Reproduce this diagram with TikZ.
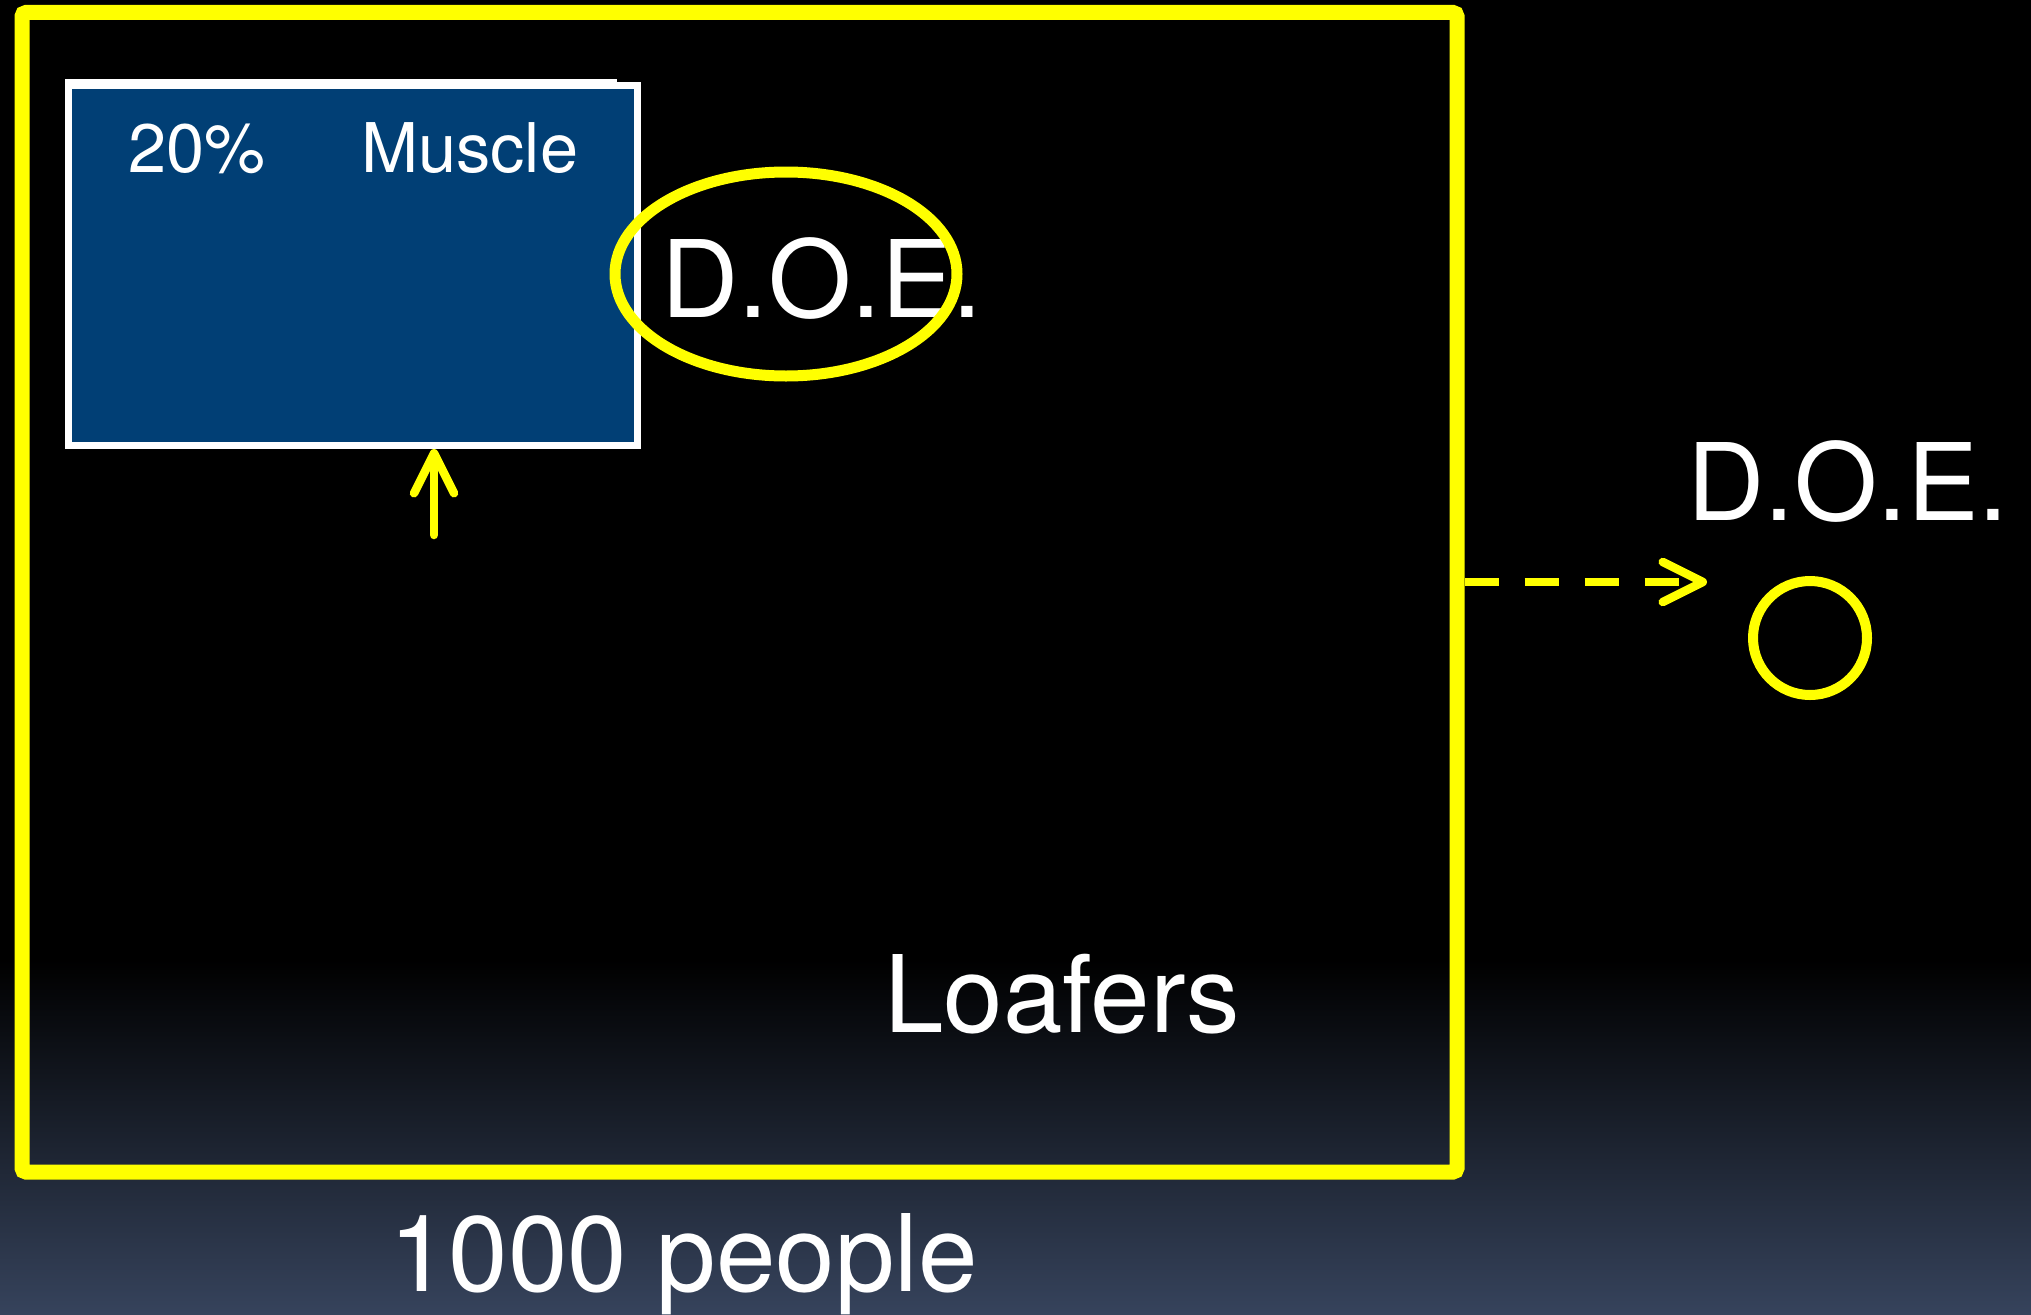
\documentclass[tikz,border=0pt]{standalone}
\usepackage{fontspec}
\setmainfont{TeX Gyre Heros}
\usetikzlibrary{shapes.geometric,arrows.meta}

\definecolor{hiyellow}{RGB}{255,255,0}
\definecolor{boxblue}{RGB}{1,63,117}
\definecolor{floorblue}{RGB}{54,67,92}

\tikzset{
  bigtext/.style={text=white, inner sep=0pt, anchor=base west,
    font=\fontsize{107}{120}\selectfont},
  smalltext/.style={text=white, inner sep=0pt, anchor=base west,
    font=\fontsize{68.5}{80}\selectfont},
  hiline/.style={draw=hiyellow, line cap=round, line join=round},
  barb/.style={-{Straight Barb[length=40pt, width=40pt, line cap=round, line join=round]}},
}

\begin{document}
\begin{tikzpicture}[x=1pt, y=-1pt]
  % backdrop: black, fading to slate blue near the bottom
  \fill[black] (0,0) rectangle (2031,1314);
  \shade[top color=black, bottom color=floorblue] (0,960) rectangle (2031,1314);
  \useasboundingbox (0,0) rectangle (2031,1314);

  % whole population
  \node[draw=hiyellow, line width=15pt, rounded corners=4pt, inner sep=0pt,
        minimum width=1435pt, minimum height=1159.5pt] (pop) at (739.5,592.25) {};

  % muscle group
  \node[fill=boxblue, draw=white, line width=7pt, inner sep=0pt,
        minimum width=568.5pt, minimum height=360.5pt] (muscle) at (352.75,265.25) {};
  \fill[white] (65,79) rectangle (617,84);
  \node[smalltext] (pct) at (128,172) {20\%};
  \node[smalltext] (mus) at (361,172) {Muscle};

  % arrow pointing up into the muscle group
  \coordinate (atail) at (434,535);
  \draw[hiline, line width=8.5pt, barb] (atail) -- (atail |- muscle.south);

  % D.O.E. inside the population, circled
  \node[bigtext] (doein) at (661,317) {D.O.E.};
  \node[ellipse, draw=hiyellow, line width=11pt, inner sep=0pt,
        minimum width=342pt, minimum height=204pt] (ring) at (786,274) {};

  \node[bigtext] (loaf) at (884,1032) {Loafers};
  \node[bigtext] (count) at (389,1291) {1000 people};

  % D.O.E. outside the population
  \node[bigtext] (doeout) at (1687,520) {D.O.E.};
  \coordinate (dtip) at (1707,582);
  \draw[draw=hiyellow, line width=8.5pt, dash pattern=on 34pt off 26pt, barb]
    (dtip -| pop.east) -- (dtip);
  \node[circle, draw=hiyellow, line width=10pt, inner sep=0pt,
        minimum size=114pt] (dot) at (1810,638) {};
\end{tikzpicture}
\end{document}
